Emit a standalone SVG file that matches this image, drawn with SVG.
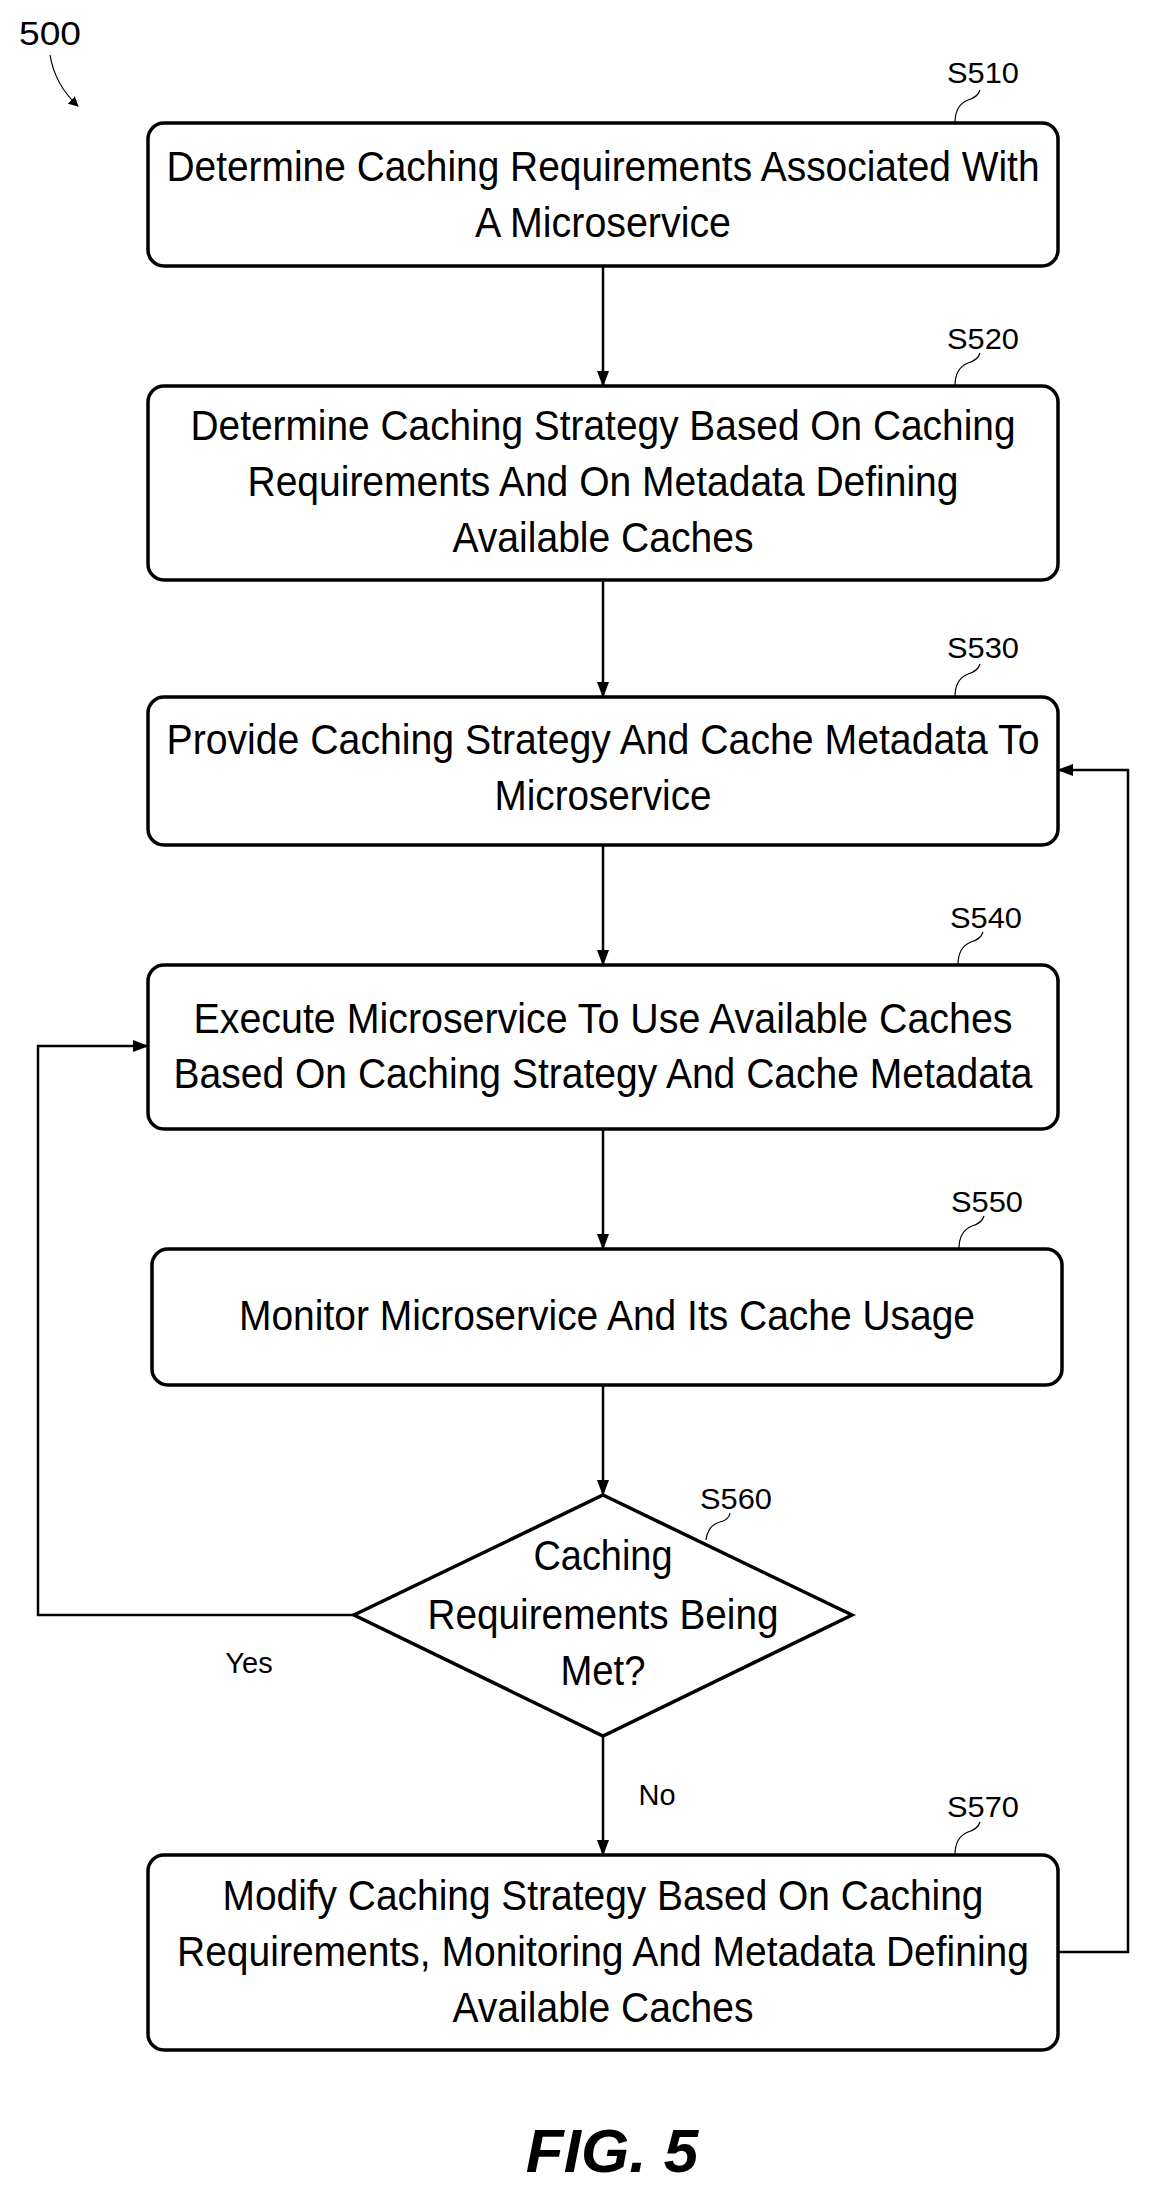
<svg xmlns="http://www.w3.org/2000/svg" width="1150" height="2199" viewBox="0 0 1150 2199">
<style>
.box{fill:#fff;stroke:#000;stroke-width:3.5}
.t{font-family:"Liberation Sans",Arial,sans-serif;font-size:42px;text-anchor:middle;fill:#000}
.lbl{font-family:"Liberation Sans",Arial,sans-serif;font-size:29px;text-anchor:middle;fill:#000}
.c{fill:none;stroke:#000;stroke-width:2.5}
.ld{fill:none;stroke:#000;stroke-width:1.2}
</style>
<defs><marker id="a" markerWidth="10" markerHeight="10" refX="9" refY="5" orient="auto" markerUnits="userSpaceOnUse" viewBox="0 0 10 10"><path d="M0,0 L10,5 L0,10 z" fill="#000"/></marker>
<marker id="b" markerWidth="16" markerHeight="16" refX="15" refY="8" orient="auto" markerUnits="userSpaceOnUse" viewBox="0 0 16 16"><path d="M0,2 L16,8 L0,14 z" fill="#000"/></marker></defs>
<g id="ref500"><text x="50" y="45" class="lbl" style="font-size:33px" textLength="62" lengthAdjust="spacingAndGlyphs">500</text><path class="ld" d="M50,55 Q55,85 78,106" marker-end="url(#a)"/></g>
<g id="connectors">
<line class="c" x1="603" y1="266" x2="603" y2="386" marker-end="url(#b)"/>
<line class="c" x1="603" y1="580" x2="603" y2="697" marker-end="url(#b)"/>
<line class="c" x1="603" y1="845" x2="603" y2="965" marker-end="url(#b)"/>
<line class="c" x1="603" y1="1129" x2="603" y2="1249" marker-end="url(#b)"/>
<line class="c" x1="603" y1="1385" x2="603" y2="1495" marker-end="url(#b)"/>
<line class="c" x1="603" y1="1736" x2="603" y2="1855" marker-end="url(#b)"/>
<polyline class="c" points="354,1615 38,1615 38,1046 148,1046" marker-end="url(#b)"/>
<polyline class="c" points="1058,1952 1128,1952 1128,770 1058,770" marker-end="url(#b)"/>
<text x="249" y="1673" class="lbl">Yes</text>
<text x="657" y="1805" class="lbl">No</text>
</g>
<g id="S510"><rect class="box" x="148" y="123" width="910" height="143" rx="16"/>
<text class="t" x="603" y="181" textLength="873" lengthAdjust="spacingAndGlyphs">Determine Caching Requirements Associated With</text>
<text class="t" x="603" y="237" textLength="256" lengthAdjust="spacingAndGlyphs">A Microservice</text>
<text class="lbl" x="983" y="83" textLength="72" lengthAdjust="spacingAndGlyphs">S510</text><path class="ld" d="M955,123 Q955,105 968,100 Q978,97 980,90"/></g>
<g id="S520"><rect class="box" x="148" y="386" width="910" height="194" rx="16"/>
<text class="t" x="603" y="440" textLength="825" lengthAdjust="spacingAndGlyphs">Determine Caching Strategy Based On Caching</text>
<text class="t" x="603" y="496" textLength="711" lengthAdjust="spacingAndGlyphs">Requirements And On Metadata Defining</text>
<text class="t" x="603" y="552" textLength="301" lengthAdjust="spacingAndGlyphs">Available Caches</text>
<text class="lbl" x="983" y="349" textLength="72" lengthAdjust="spacingAndGlyphs">S520</text><path class="ld" d="M955,386 Q955,368 968,363 Q978,360 980,353"/></g>
<g id="S530"><rect class="box" x="148" y="697" width="910" height="148" rx="16"/>
<text class="t" x="603" y="754" textLength="873" lengthAdjust="spacingAndGlyphs">Provide Caching Strategy And Cache Metadata To</text>
<text class="t" x="603" y="810" textLength="217" lengthAdjust="spacingAndGlyphs">Microservice</text>
<text class="lbl" x="983" y="658" textLength="72" lengthAdjust="spacingAndGlyphs">S530</text><path class="ld" d="M955,697 Q955,679 968,674 Q978,671 980,664"/></g>
<g id="S540"><rect class="box" x="148" y="965" width="910" height="164" rx="16"/>
<text class="t" x="603" y="1033" textLength="819" lengthAdjust="spacingAndGlyphs">Execute Microservice To Use Available Caches</text>
<text class="t" x="603" y="1088" textLength="859" lengthAdjust="spacingAndGlyphs">Based On Caching Strategy And Cache Metadata</text>
<text class="lbl" x="986" y="928" textLength="72" lengthAdjust="spacingAndGlyphs">S540</text><path class="ld" d="M958,965 Q958,947 971,942 Q981,939 983,932"/></g>
<g id="S550"><rect class="box" x="152" y="1249" width="910" height="136" rx="16"/>
<text class="t" x="607" y="1330" textLength="736" lengthAdjust="spacingAndGlyphs">Monitor Microservice And Its Cache Usage</text>
<text class="lbl" x="987" y="1212" textLength="72" lengthAdjust="spacingAndGlyphs">S550</text><path class="ld" d="M959,1249 Q959,1231 972,1226 Q982,1223 984,1216"/></g>
<g id="S560"><polygon class="box" points="603,1495 852,1615 603,1736 354,1615"/>
<text class="t" x="603" y="1570" textLength="139" lengthAdjust="spacingAndGlyphs">Caching</text>
<text class="t" x="603" y="1629" textLength="351" lengthAdjust="spacingAndGlyphs">Requirements Being</text>
<text class="t" x="603" y="1685" textLength="85" lengthAdjust="spacingAndGlyphs">Met?</text>
<text class="lbl" x="736" y="1509" textLength="72" lengthAdjust="spacingAndGlyphs">S560</text><path class="ld" d="M706,1540 Q708,1525 720,1522 Q729,1520 730,1513"/></g>
<g id="S570"><rect class="box" x="148" y="1855" width="910" height="195" rx="16"/>
<text class="t" x="603" y="1910" textLength="761" lengthAdjust="spacingAndGlyphs">Modify Caching Strategy Based On Caching</text>
<text class="t" x="603" y="1966" textLength="852" lengthAdjust="spacingAndGlyphs">Requirements, Monitoring And Metadata Defining</text>
<text class="t" x="603" y="2022" textLength="301" lengthAdjust="spacingAndGlyphs">Available Caches</text>
<text class="lbl" x="983" y="1817" textLength="72" lengthAdjust="spacingAndGlyphs">S570</text><path class="ld" d="M955,1855 Q955,1837 968,1832 Q978,1829 980,1822"/></g>
<text x="612" y="2172" style="font-family:'Liberation Sans',Arial,sans-serif;font-size:62px;font-style:italic;font-weight:bold;text-anchor:middle">FIG.  5</text>
</svg>
